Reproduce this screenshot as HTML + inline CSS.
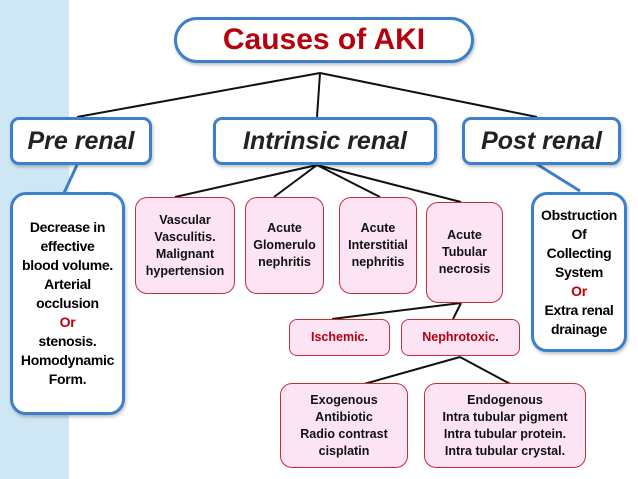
<!DOCTYPE html>
<html><head><style>
body{margin:0;width:638px;height:479px;background:#fff;position:relative;overflow:hidden;font-family:"Liberation Sans",sans-serif}
.strip{position:absolute;left:0;top:0;width:69px;height:479px;background:#cfe7f5}
.b{position:absolute;box-sizing:border-box;display:flex;align-items:center;justify-content:center;text-align:center;font-weight:bold}
.blue{background:#fff;border:3px solid #3d7fc9;border-radius:14px;box-shadow:1px 2px 3px rgba(0,0,0,.25)}
.h{font-style:italic;font-size:25px;color:#222;border-radius:9px}
.pink{background:#fde4f4;border:1.5px solid #c0303a;border-radius:12px;font-size:12.5px;line-height:17px;color:#111}
.r{color:#b5000e}
</style></head><body>
<div class="strip"></div>
<svg style="position:absolute;left:0;top:0" width="638" height="479">
<g stroke="#111" stroke-width="2" fill="none">
<path d="M320 73L77 117M320 73L317 117M320 73L537 117"/>
<path d="M317 165L175 197M317 165L274 197M317 165L380 197M317 165L461 202"/>
<path d="M461 303L332 319M461 303L453 319M460 357L364 384M460 357L514 386"/>
</g>
<g stroke="#3d7fc9" stroke-width="3"><path d="M77 165L64 193M535 163L580 191"/></g>
</svg>
<div class="b blue" style="left:174px;top:17px;width:300px;height:46px;border-radius:23px;font-size:30px;color:#b5000e">Causes of AKI</div>
<div class="b blue h" style="left:10px;top:117px;width:142px;height:48px">Pre renal</div>
<div class="b blue h" style="left:213px;top:117px;width:224px;height:48px">Intrinsic renal</div>
<div class="b blue h" style="left:462px;top:117px;width:159px;height:48px">Post renal</div>
<div class="b blue" style="left:10px;top:192px;width:115px;height:223px;font-size:14px;line-height:19px;border-radius:16px"><div style="letter-spacing:-0.3px">Decrease in<br>effective<br>blood volume.<br>Arterial<br>occlusion<br><span class="r">Or</span><br>stenosis.<br>Homodynamic<br>Form.</div></div>
<div class="b blue" style="left:531px;top:192px;width:96px;height:160px;font-size:14px;line-height:19px;border-radius:16px"><div style="letter-spacing:-0.3px">Obstruction<br>Of<br>Collecting<br>System<br><span class="r">Or</span><br>Extra renal<br>drainage</div></div>
<div class="b pink" style="left:135px;top:197px;width:100px;height:97px"><div>Vascular<br>Vasculitis.<br>Malignant<br>hypertension</div></div>
<div class="b pink" style="left:245px;top:197px;width:79px;height:97px"><div>Acute<br>Glomerulo<br>nephritis</div></div>
<div class="b pink" style="left:339px;top:197px;width:78px;height:97px"><div>Acute<br>Interstitial<br>nephritis</div></div>
<div class="b pink" style="left:426px;top:202px;width:77px;height:101px"><div>Acute<br>Tubular<br>necrosis</div></div>
<div class="b pink r" style="left:289px;top:319px;width:101px;height:37px;border-radius:8px"><div>Ischemic<span style="color:#111">.</span></div></div>
<div class="b pink r" style="left:401px;top:319px;width:119px;height:37px;border-radius:8px"><div>Nephrotoxic<span style="color:#111">.</span></div></div>
<div class="b pink" style="left:280px;top:383px;width:128px;height:85px"><div>Exogenous<br>Antibiotic<br>Radio contrast<br>cisplatin</div></div>
<div class="b pink" style="left:424px;top:383px;width:162px;height:85px"><div>Endogenous<br>Intra tubular pigment<br>Intra tubular protein.<br>Intra tubular crystal.</div></div>
</body></html>
